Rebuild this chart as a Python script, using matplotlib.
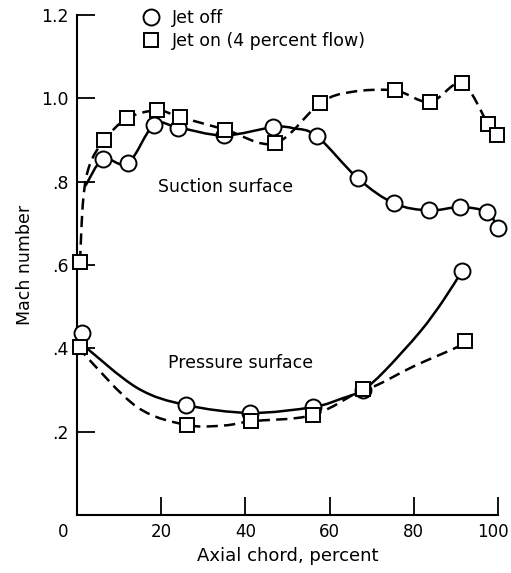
import numpy as np
import matplotlib
matplotlib.use('Agg')
import matplotlib.pyplot as plt
from matplotlib.path import Path
from matplotlib.patches import PathPatch
from matplotlib.transforms import ScaledTranslation

plt.rcParams['font.family'] = ['DejaVu Sans']

# measured points (axial chord percent, Mach number)
off_suction_x = [6.2, 12.1, 18.3, 24.0, 34.9, 46.6, 57.0, 66.7, 75.3, 83.6, 91.0, 97.4, 100.0]
off_suction_y = [0.854, 0.844, 0.937, 0.930, 0.911, 0.931, 0.909, 0.808, 0.748, 0.731, 0.739, 0.727, 0.688]
off_pressure_x = [1.2, 25.9, 41.1, 56.0, 67.9, 91.4]
off_pressure_y = [0.436, 0.264, 0.245, 0.259, 0.300, 0.585]

on_suction_x = [0.7, 6.4, 11.9, 19.0, 24.5, 35.2, 47.0, 57.7, 75.5, 83.8, 91.4, 97.6, 99.8]
on_suction_y = [0.607, 0.899, 0.952, 0.971, 0.955, 0.925, 0.892, 0.988, 1.019, 0.991, 1.036, 0.939, 0.911]
on_pressure_x = [0.7, 26.1, 41.3, 56.0, 67.9, 92.2]
on_pressure_y = [0.403, 0.216, 0.225, 0.240, 0.302, 0.417]

# faired curves
fair_off_suction_x = [2.0, 6.2, 12.1, 18.3, 24.0, 34.9, 46.6, 51.5, 57.0, 66.7, 75.3, 83.6, 91.0, 97.4, 100.0]
fair_off_suction_y = [0.79, 0.854, 0.844, 0.937, 0.930, 0.911, 0.931, 0.928, 0.909, 0.808, 0.748, 0.731, 0.739, 0.727, 0.688]
fair_on_suction_x = [0.7, 1.5, 3.0, 6.4, 11.9, 19.0, 24.5, 35.2, 47.0, 57.7, 65.0, 75.5, 83.8, 91.4, 97.6, 99.8]
fair_on_suction_y = [0.607, 0.76, 0.84, 0.899, 0.952, 0.971, 0.955, 0.925, 0.892, 0.988, 1.015, 1.019, 0.991, 1.036, 0.939, 0.911]
fair_off_pressure_x = [1.2, 14.3, 25.9, 41.1, 56.0, 63.0, 67.9, 73.0, 81.5, 87.0, 91.4]
fair_off_pressure_y = [0.41, 0.305, 0.264, 0.245, 0.259, 0.280, 0.300, 0.345, 0.440, 0.515, 0.585]
fair_on_pressure_x = [0.7, 1.9, 14.3, 26.1, 35.0, 41.3, 56.0, 67.9, 71.3, 80.0, 90.3, 92.2]
fair_on_pressure_y = [0.403, 0.384, 0.259, 0.216, 0.215, 0.225, 0.240, 0.302, 0.312, 0.357, 0.403, 0.417]


def smooth_path(xs, ys):
    p = np.column_stack([xs, ys]).astype(float)
    p = np.vstack([p[0], p, p[-1]])
    verts = [p[1]]
    codes = [Path.MOVETO]
    for i in range(1, len(p) - 2):
        c1 = p[i] + (p[i + 1] - p[i - 1]) / 6.0
        c2 = p[i + 1] - (p[i + 2] - p[i]) / 6.0
        verts += [c1, c2, p[i + 1]]
        codes += [Path.CURVE4] * 3
    return Path(verts, codes)


fig = plt.figure(figsize=(5.11, 5.73), dpi=100)
ax = fig.add_axes([0.1507, 0.1012, 0.8239, 0.8726])

dash = (0, (4.5, 2.5))
for xs, ys, ls in [(fair_off_suction_x, fair_off_suction_y, '-'),
                   (fair_off_pressure_x, fair_off_pressure_y, '-'),
                   (fair_on_suction_x, fair_on_suction_y, dash),
                   (fair_on_pressure_x, fair_on_pressure_y, dash)]:
    ax.add_patch(PathPatch(smooth_path(xs, ys), fill=False, lw=1.8,
                           ec='black', linestyle=ls, zorder=2, capstyle='butt'))

mk = dict(ls='none', mfc='white', mec='black', mew=1.4, zorder=3, clip_on=False)
ax.plot(off_suction_x, off_suction_y, 'o', ms=11.5, label='Jet off', **mk)
ax.plot(off_pressure_x, off_pressure_y, 'o', ms=11.5, **mk)
ax.plot(on_suction_x, on_suction_y, 's', ms=10.5, label='Jet on (4 percent flow)', **mk)
ax.plot(on_pressure_x, on_pressure_y, 's', ms=10.5, **mk)

ax.text(19.2, 0.787, 'Suction surface', fontsize=12.5, va='center')
ax.text(21.6, 0.365, 'Pressure surface', fontsize=12.5, va='center')

ax.set_xlim(0, 100)
ax.set_ylim(0, 1.2)
ax.set_xticks([0, 20, 40, 60, 80, 100])
ax.set_yticks([0.2, 0.4, 0.6, 0.8, 1.0, 1.2])
ax.set_yticklabels(['.2', '.4', '.6', '.8', '1.0', '1.2'])
ax.tick_params(direction='in', length=13, width=1.3, labelsize=12.5, pad=6)
ax.tick_params(axis='x', labelsize=12)
ax.xaxis.get_major_ticks()[0].tick1line.set_visible(False)
xlabs = ax.get_xticklabels()
xlabs[0].set_transform(xlabs[0].get_transform() + ScaledTranslation(-0.14, 0, fig.dpi_scale_trans))
xlabs[-1].set_transform(xlabs[-1].get_transform() + ScaledTranslation(-0.05, 0, fig.dpi_scale_trans))

for s in ['top', 'right']:
    ax.spines[s].set_visible(False)
for s in ['left', 'bottom']:
    ax.spines[s].set_linewidth(1.5)

ax.set_xlabel('Axial chord, percent', fontsize=13, labelpad=4)
ax.set_ylabel('Mach number', fontsize=12.5, labelpad=5)

ax.legend(loc='upper left', bbox_to_anchor=(0.13, 1.03), frameon=False,
          fontsize=12.5, handletextpad=0.6, labelspacing=0.3, borderpad=0,
          handlelength=1.2)

fig.savefig('out.png', dpi=100)
